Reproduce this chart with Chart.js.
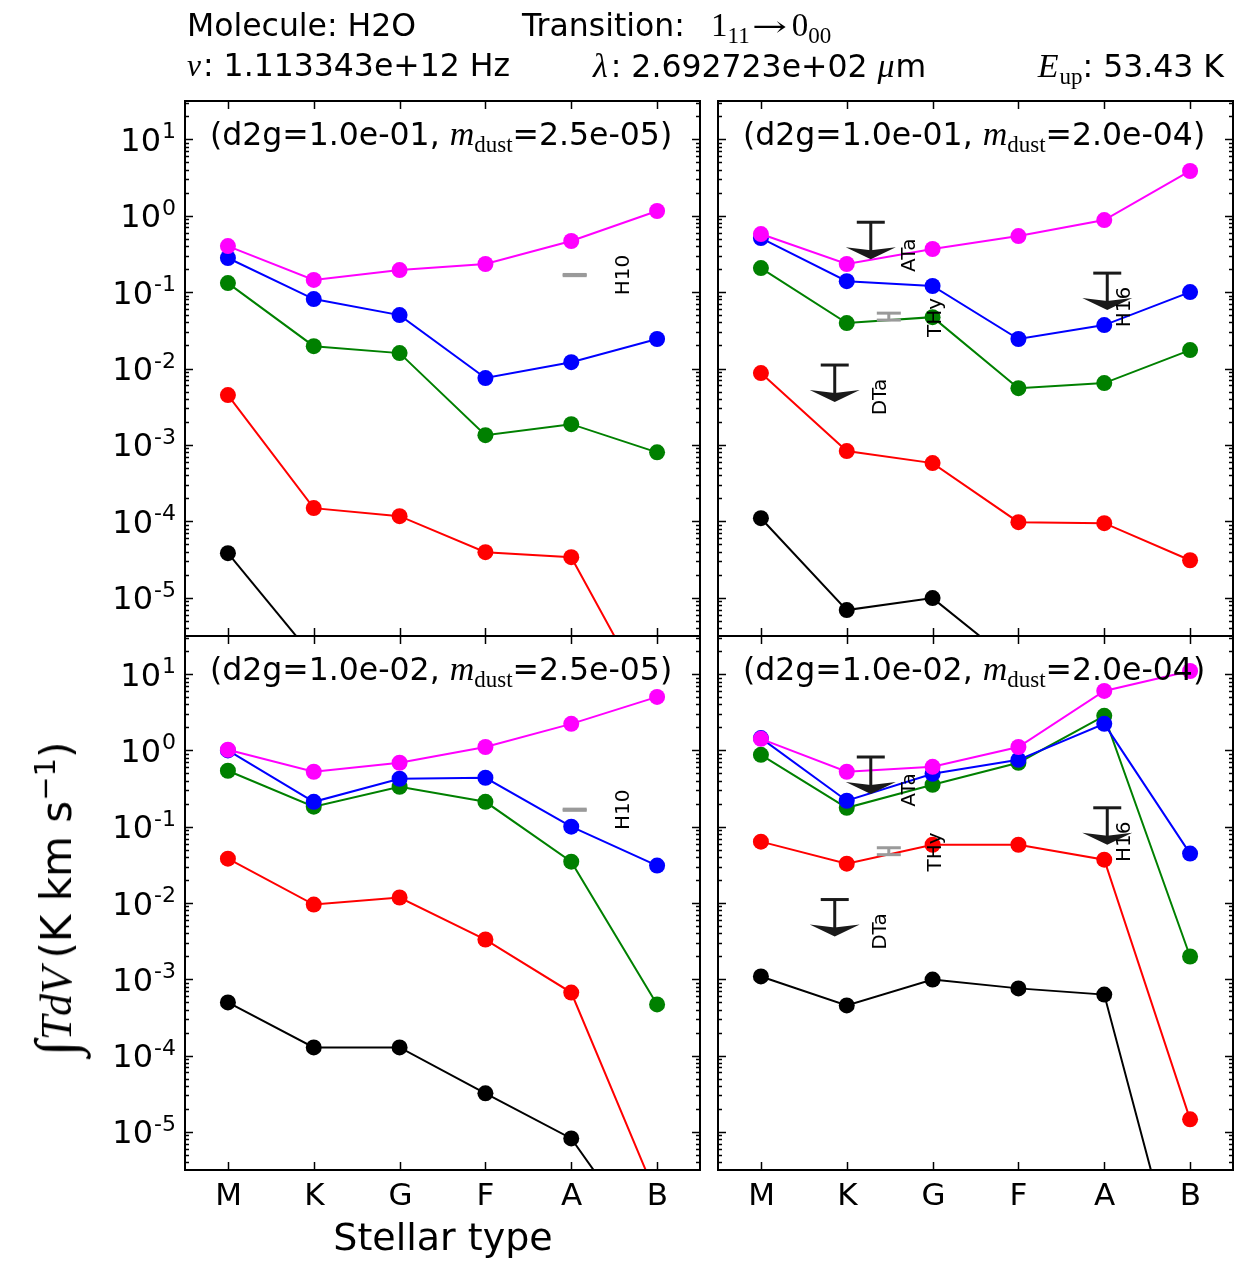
<!DOCTYPE html>
<html><head><meta charset="utf-8">
<script src="https://cdn.jsdelivr.net/npm/chart.js@4.4.0/dist/chart.umd.min.js"></script>
<style>
html,body{margin:0;padding:0;background:#fff;}
#wrap{position:relative;width:1248px;height:1272px;overflow:hidden;background:#fff;}
canvas{position:absolute;left:0;top:0;}
.t{position:absolute;white-space:nowrap;font-family:'DejaVu Sans';color:#000;}
.m{font-family:'Liberation Serif','DejaVu Serif',serif;font-style:italic;}
.r{font-family:'Liberation Serif','DejaVu Serif',serif;font-style:normal;}
.sub{position:relative;line-height:0;}
.arr{display:inline-block;width:40px;line-height:0;transform:scaleX(1.5);transform-origin:left center;font-family:'DejaVu Serif';}
</style></head><body><div id="wrap">
<canvas id="c0" width="1248" height="1272"></canvas>
<canvas id="c1" width="1248" height="1272"></canvas>
<canvas id="c2" width="1248" height="1272"></canvas>
<canvas id="c3" width="1248" height="1272"></canvas>
</div>
<script>
// ---------------- DATA ----------------
const stellarTypes = ['M', 'K', 'G', 'F', 'A', 'B'];
const yTickExponents = [-5, -4, -3, -2, -1, 0, 1];
const d2gLabels = ['1.0e-01', '1.0e-01', '1.0e-02', '1.0e-02'];
const mdustLabels = ['2.5e-05', '2.0e-04', '2.5e-05', '2.0e-04'];

// panel 1: d2g=1.0e-01, m_dust=2.5e-05
const p1Magenta = [0.40, 0.144, 0.194, 0.233, 0.466, 1.15];
const p1Blue    = [0.279, 0.081, 0.050, 0.0075, 0.0121, 0.0243];
const p1Green   = [0.131, 0.0196, 0.0159, 0.00134, 0.00187, 0.00080];
const p1Red     = [0.00449, 1.49e-4, 1.17e-4, 3.95e-5, 3.4e-5, 3.0e-7];
const p1Black   = [3.84e-5, 1.66e-6, null, null, null, null];

// panel 2: d2g=1.0e-01, m_dust=2.0e-04
const p2Magenta = [0.574, 0.233, 0.366, 0.541, 0.875, 3.84];
const p2Blue    = [0.509, 0.139, 0.120, 0.0243, 0.037, 0.100];
const p2Green   = [0.206, 0.0393, 0.047, 0.00553, 0.00644, 0.0174];
const p2Red     = [0.00871, 8.3e-4, 5.78e-4, 9.77e-5, 9.47e-5, 3.1e-5];
const p2Black   = [1.1e-4, 6.9e-6, 9.9e-6, 1.24e-6, null, null];

// panel 3: d2g=1.0e-02, m_dust=2.5e-05
const p3Magenta = [1.02, 0.525, 0.69, 1.11, 2.23, 5.03];
const p3Blue    = [1.0, 0.212, 0.425, 0.438, 0.100, 0.0309];
const p3Green   = [0.541, 0.183, 0.334, 0.212, 0.0348, 4.68e-4];
const p3Red     = [0.0381, 0.00953, 0.0118, 0.00332, 6.7e-4, 1.39e-6];
const p3Black   = [4.97e-4, 1.28e-4, 1.28e-4, 3.2e-5, 8.2e-6, 2.1e-7];

// panel 4: d2g=1.0e-02, m_dust=2.0e-04
const p4Magenta = [1.42, 0.525, 0.61, 1.11, 6.03, 11.0];
const p4Blue    = [1.45, 0.219, 0.494, 0.753, 2.23, 0.0444];
const p4Green   = [0.875, 0.177, 0.355, 0.69, 2.84, 0.00199];
const p4Red     = [0.0637, 0.0328, 0.058, 0.058, 0.037, 1.46e-5];
const p4Black   = [1.09e-3, 4.54e-4, 9.9e-4, 7.6e-4, 6.3e-4, 3.7e-8];

// observations (x in stellar-type index units, y in K km/s)
const upperLimitNames = ['ATa', 'DTa', 'H16'];
const upperLimitX     = [1.28, 0.86, 4.035];
const upperLimitY     = [0.82, 0.0111, 0.177];
const detRightNames = ['THy'];
const detRightX     = [1.49];
const detRightY     = [0.048];
const detRightLo    = [0.043];
const detRightHi    = [0.053];
const detLeftNames = ['H10'];
const detLeftX     = [4.04];
const detLeftY     = [0.167];
const detLeftLo    = [0.164];
const detLeftHi    = [0.170];

// ---------------- STYLE / LAYOUT ----------------
const W = 1248, H = 1272;
const seriesColors = ['#ff00ff', '#0000ff', '#008000', '#ff0000', '#000000'];
const panelBoxes = [[185, 101, 700, 636], [718, 101, 1233, 636], [185, 636, 700, 1170], [718, 636, 1233, 1170]];
const labelOffsets = {ATa: [39, 33], DTa: [46, 32], H16: [18, 34], THy: [47, 1], H10: [49, 0]};

const panelSeries = [
  [p1Magenta, p1Blue, p1Green, p1Red, p1Black],
  [p2Magenta, p2Blue, p2Green, p2Red, p2Black],
  [p3Magenta, p3Blue, p3Green, p3Red, p3Black],
  [p4Magenta, p4Blue, p4Green, p4Red, p4Black]
];
const panelFlags = [
  {xlab: false, ylab: true, right: false},
  {xlab: false, ylab: false, right: true},
  {xlab: true, ylab: true, right: false},
  {xlab: true, ylab: false, right: true}
];

function line(ctx, x1, y1, x2, y2) { ctx.beginPath(); ctx.moveTo(x1, y1); ctx.lineTo(x2, y2); ctx.stroke(); }

const axesPlugin = {
  id: 'axesFrame',
  afterDatasetsDraw(chart) {
    const idx = +chart.canvas.id.slice(1);
    const f = panelFlags[idx];
    const {ctx, chartArea: a} = chart;
    const xs = chart.scales.x, ys = chart.scales.y;
    ctx.save();
    // ---- observation annotations ----
    const drawLabel = (name, px, py) => {
      const off = labelOffsets[name];
      ctx.save();
      ctx.translate(px + off[0], py + off[1]);
      ctx.rotate(-Math.PI / 2);
      ctx.fillStyle = '#000';
      ctx.font = '20px "DejaVu Sans"';
      ctx.textAlign = 'center';
      ctx.textBaseline = 'middle';
      ctx.fillText(name, 0, 0);
      ctx.restore();
    };
    const drawDet = (names, X, Y, Lo, Hi) => {
      names.forEach((n, i) => {
        const px = xs.getPixelForValue(X[i]);
        const py = ys.getPixelForValue(Y[i]);
        const pl = ys.getPixelForValue(Lo[i]);
        const ph = ys.getPixelForValue(Hi[i]);
        ctx.strokeStyle = '#9a9a9a';
        ctx.lineWidth = 3;
        line(ctx, px - 12, ph, px + 12, ph);
        line(ctx, px - 12, pl, px + 12, pl);
        line(ctx, px, ph, px, pl);
        drawLabel(n, px, py);
      });
    };
    if (f.right) {
      upperLimitNames.forEach((n, i) => {
        const px = xs.getPixelForValue(upperLimitX[i]);
        const py = ys.getPixelForValue(upperLimitY[i]);
        const tip = py + 37;
        ctx.strokeStyle = '#1a1a1a';
        ctx.fillStyle = '#1a1a1a';
        ctx.lineWidth = 3;
        line(ctx, px - 14, py, px + 14, py);
        line(ctx, px, py, px, tip - 8);
        ctx.beginPath();
        ctx.moveTo(px, tip);
        ctx.lineTo(px - 25, tip - 12);
        ctx.lineTo(px, tip - 9);
        ctx.lineTo(px + 25, tip - 12);
        ctx.closePath();
        ctx.fill();
        drawLabel(n, px, py);
      });
      drawDet(detRightNames, detRightX, detRightY, detRightLo, detRightHi);
    } else {
      drawDet(detLeftNames, detLeftX, detLeftY, detLeftLo, detLeftHi);
    }
    // ---- frame ----
    ctx.strokeStyle = '#000';
    ctx.lineWidth = 2;
    ctx.strokeRect(a.left, a.top, a.right - a.left, a.bottom - a.top);
    // ---- x ticks ----
    ctx.lineWidth = 1.5;
    ctx.fillStyle = '#000';
    stellarTypes.forEach((c, i) => {
      const px = Math.round(xs.getPixelForValue(i)) + 0.5;
      line(ctx, px, a.bottom, px, a.bottom - 8);
      line(ctx, px, a.top, px, a.top + 8);
      if (f.xlab) {
        ctx.font = '31px "DejaVu Sans"';
        ctx.textAlign = 'center';
        ctx.textBaseline = 'alphabetic';
        ctx.fillText(c, px, a.bottom + 35);
      }
    });
    // ---- y ticks ----
    const ymin = ys.min, ymax = ys.max;
    for (let k = -6; k <= 1; k++) {
      for (let m = 1; m <= 9; m++) {
        const v = m * Math.pow(10, k);
        if (v < ymin || v > ymax) continue;
        const py = Math.round(ys.getPixelForValue(v)) + 0.5;
        const len = m === 1 ? 8 : 4;
        line(ctx, a.left, py, a.left + len, py);
        line(ctx, a.right, py, a.right - len, py);
      }
    }
    if (f.ylab) {
      yTickExponents.forEach(e => {
        const py = ys.getPixelForValue(Math.pow(10, e));
        const xr = a.left - 9;
        ctx.textAlign = 'right';
        ctx.textBaseline = 'alphabetic';
        ctx.font = '22px "DejaVu Sans"';
        const es = String(e);
        const ew = ctx.measureText(es).width;
        ctx.fillText(es, xr, py - 1);
        ctx.font = '32px "DejaVu Sans"';
        ctx.fillText('10', xr - ew - 1, py + 11.5);
      });
    }
    ctx.restore();
  }
};

panelSeries.forEach((series, idx) => {
  const box = panelBoxes[idx];
  new Chart(document.getElementById('c' + idx), {
    type: 'line',
    data: {
      datasets: series.map((vals, j) => ({
        data: vals.map((v, i) => ({x: i, y: v})),
        borderColor: seriesColors[j],
        backgroundColor: seriesColors[j],
        pointBackgroundColor: seriesColors[j],
        pointBorderColor: seriesColors[j],
        pointRadius: 8,
        pointBorderWidth: 0,
        borderWidth: 2,
        tension: 0,
        spanGaps: false
      }))
    },
    options: {
      responsive: false,
      animation: false,
      devicePixelRatio: 1,
      events: [],
      layout: {padding: {left: box[0], top: box[1], right: W - box[2], bottom: H - box[3]}},
      plugins: {legend: {display: false}, tooltip: {enabled: false}},
      scales: {
        x: {type: 'linear', min: -0.5, max: 5.5, display: false},
        y: {type: 'logarithmic', min: Math.pow(10, -5.5), max: Math.pow(10, 1.5), display: false}
      }
    },
    plugins: [axesPlugin]
  });
});

// ---------------- TEXT (HTML) ----------------
const wrap = document.getElementById('wrap');
function addText(html, left, baseline, size, extra) {
  const d = document.createElement('div');
  d.className = 't';
  d.style.fontSize = size + 'px';
  d.style.lineHeight = size + 'px';
  d.style.top = (baseline - 0.846 * size) + 'px';
  if (left !== null) d.style.left = left + 'px';
  if (extra) Object.assign(d.style, extra);
  d.innerHTML = html;
  wrap.appendChild(d);
  return d;
}
addText('Molecule: H2O', 187, 37, 31.5);
addText('Transition:', 522, 37, 31.5);
addText('<span class="r" style="font-size:33px">1</span><span class="r sub" style="font-size:23px;top:7px">11</span><span class="arr" style="font-size:28px;margin-left:2px">\u2192</span><span class="r" style="font-size:33px">0</span><span class="r sub" style="font-size:23px;top:7px">00</span>', 711, 37, 31.5);
addText('<span class="m" style="margin-right:2px">\u03bd</span>: 1.113343e+12 Hz', 187, 77, 31.5);
addText('<span class="m" style="margin-right:3px;font-size:34px">\u03bb</span>: 2.692723e+02 <span class="m" style="font-size:34px;margin-right:1px">\u03bc</span>m', 593, 77, 31.5);
addText('<span class="m" style="font-size:34px;margin-right:1px">E</span><span class="r sub" style="font-size:23px;top:7px">up</span>: 53.43 K', null, 77, 31.5, {right: (W - 1224) + 'px'});

panelBoxes.forEach((b, i) => {
  addText('(d2g=' + d2gLabels[i] + ', <span class="m" style="font-size:34px">m</span><span class="r sub" style="font-size:23px;top:7px">dust</span>=' + mdustLabels[i] + ')', b[0] + 25, b[1] + 44, 31.5);
});

const xl = addText('Stellar type', null, 1250, 38);
xl.style.left = '443px';
xl.style.transform = 'translateX(-50%)';

const yl = document.createElement('div');
yl.className = 't';
yl.style.fontSize = '42px';
yl.style.lineHeight = '42px';
yl.style.left = '57px';
yl.style.top = '899px';
yl.style.transform = 'translate(-50%,-50%) rotate(-90deg)';
yl.innerHTML = '<span class="m" style="font-size:58px;line-height:0;position:relative;top:4px">\u222b</span><span class="m" style="font-size:44px">TdV</span>\u2009(K km s<span class="sub" style="font-size:29px;top:-16px">\u22121</span>)';
wrap.appendChild(yl);
</script>
</body></html>
